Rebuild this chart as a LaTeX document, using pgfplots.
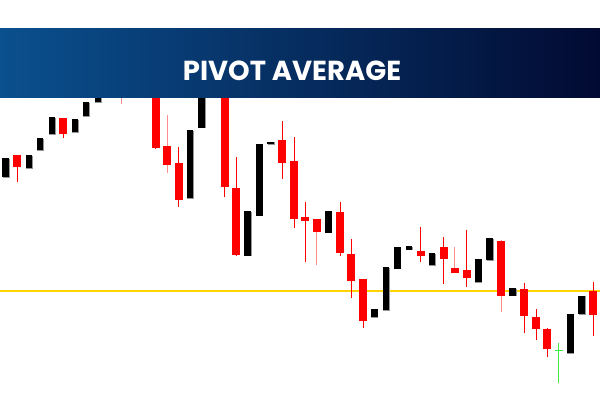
\documentclass[border=0pt]{standalone}
\usepackage{pgfplots}
\pgfplotsset{compat=1.18}
\usepackage{pgfplotstable}
\usepackage{fontspec}
\setmainfont{Poppins}
\definecolor{bannerL}{RGB}{10,80,142}
\definecolor{bannerR}{RGB}{2,10,50}
\definecolor{pivotline}{RGB}{255,212,0}
\definecolor{cred}{RGB}{255,0,0}
\definecolor{cpink}{RGB}{255,140,140}
\definecolor{cgreen}{RGB}{60,235,60}
\definecolor{cshadow}{RGB}{150,150,150}

% black (rising) candles: x open high low close
\pgfplotstableread{
x o h l c
5.5 223 242 223 242
29 232 245 232 245
40 250 262 250 262
52 266 283 266 283
75 268 281 268 281
86 284 298 284 298
98 298 322 298 320
109.2 310 352 308 350
143.7 315 357 313 355
190 202 270 202 270
201.7 272.3 342 272.3 340
247.5 144.5 188.7 144.5 188.7
259.3 184.3 256.3 184.3 256.3
270.7 255.7 258.3 255.7 258.3
328.3 167.3 188.7 167.3 188.7
374.3 82.7 91 82.7 91
386 90 132.7 90 132.7
397.3 131.3 152.7 131.3 152.7
409 150.3 154 150.3 154
432 134.7 147 134.7 147
478.3 118 141 118 141
489.7 140 162 140 162
512.7 104.3 111.7 104.3 111.7
570.3 46.7 86.3 46.7 86.3
581.7 85.7 104.3 85.7 104.3
}\blacktab

% red (falling) candles with red wicks
\pgfplotstableread{
x o h l c
17 245 245 218 233
63 282 282 262 266
132.2 350 352 318 320
155.7 340 342 251 252.3
178.7 237.3 252.7 193.3 200
212.9 350 352 313 315
224.5 330 332 203.3 213.3
236 212 243 144 145
282 260 279.3 221.3 237
294 239.3 263 172.3 180.7
305.2 183.3 198 138.3 179.3
340 188 198 144.3 147
351.3 146.3 161 102.3 118.7
363 121 121 71.7 79.3
420.5 149 173 138 144.3
443.5 153 163 116.3 141
466.5 129.7 170 113.3 121.7
524 111 116.7 67.3 83.7
536 82.7 91 59.7 71.3
547 71 72 43.3 51.3
593 108.7 118.3 64.3 85.3
}\redtab

% red candles whose wicks look pale
\pgfplotstableread{
x o h l c
121 360 362 296 315
167 254 285 227.3 235.3
316.7 181.3 181.3 135.3 168
454.8 131.7 153 127.3 127.3
501 159.3 160 88.3 104
}\pinktab

% green doji
\pgfplotstableread{
x o h l c
558.7 50.5 57.3 16.7 49
}\greentab

\pgfplotsset{
  nomark/.style={only marks, mark=none, mark size=0pt, mark options={draw=none, fill=none}, forget plot},
  candlebody/.style n args={2}{nomark,
    error bars/.cd, y dir=both, y explicit, error mark=none,
    error bar style={line width=#1, color=#2, line cap=butt}},
  candlewick/.style={nomark,
    error bars/.cd, y dir=both, y explicit, error mark=none,
    error bar style={line width=1pt, color=#1, line cap=butt}},
}

\begin{document}
\begin{tikzpicture}
\fill[white] (0pt,0pt) rectangle (600pt,400pt);
\begin{axis}[
  at={(0pt,0pt)}, anchor=south west,
  scale only axis, width=600pt, height=400pt,
  xmin=0, xmax=600, ymin=0, ymax=400,
  hide axis,
]
% pivot line
\addplot[pivotline, line width=2pt, forget plot] coordinates {(0,109.3) (600,109.3)};
% wicks
\addplot[candlewick=cred] table[x=x, y expr={(\thisrow{h}+\thisrow{l})/2}, y error expr={(\thisrow{h}-\thisrow{l})/2}] {\redtab};
\addplot[candlewick=cpink] table[x=x, y expr={(\thisrow{h}+\thisrow{l})/2}, y error expr={(\thisrow{h}-\thisrow{l})/2}] {\pinktab};
\addplot[candlewick=cgreen] table[x=x, y expr={(\thisrow{h}+\thisrow{l})/2}, y error expr={(\thisrow{h}-\thisrow{l})/2}] {\greentab};
\addplot[candlewick=black] table[x=x, y expr={(\thisrow{h}+\thisrow{l})/2}, y error expr={(\thisrow{h}-\thisrow{l})/2}] {\blacktab};
% bodies
\addplot[candlebody={7pt}{cshadow}] table[x expr={\thisrow{x}+0.6}, y expr={(\thisrow{o}+\thisrow{c})/2-0.6}, y error expr={abs(\thisrow{o}-\thisrow{c})/2}] {\blacktab};
\addplot[candlebody={6.5pt}{black}] table[x=x, y expr={(\thisrow{o}+\thisrow{c})/2}, y error expr={abs(\thisrow{o}-\thisrow{c})/2}] {\blacktab};
\addplot[candlebody={8pt}{cred}] table[x=x, y expr={(\thisrow{o}+\thisrow{c})/2}, y error expr={abs(\thisrow{o}-\thisrow{c})/2}] {\redtab};
\addplot[candlebody={8pt}{cred}] table[x=x, y expr={(\thisrow{o}+\thisrow{c})/2}, y error expr={abs(\thisrow{o}-\thisrow{c})/2}] {\pinktab};
\addplot[candlebody={8pt}{cgreen}] table[x=x, y expr={(\thisrow{o}+\thisrow{c})/2}, y error expr={abs(\thisrow{o}-\thisrow{c})/2}] {\greentab};
\end{axis}
% title banner
\shade[left color=bannerL, right color=bannerR] (0pt,303pt) rectangle (600pt,371pt);
\node[anchor=base, inner sep=0pt, text=white, font=\fontsize{27.5}{30}\selectfont\bfseries] at (292pt,319.6pt) {PIVOT AVERAGE};
\path[use as bounding box] (0pt,0pt) rectangle (600pt,400pt);
\end{tikzpicture}
\end{document}
